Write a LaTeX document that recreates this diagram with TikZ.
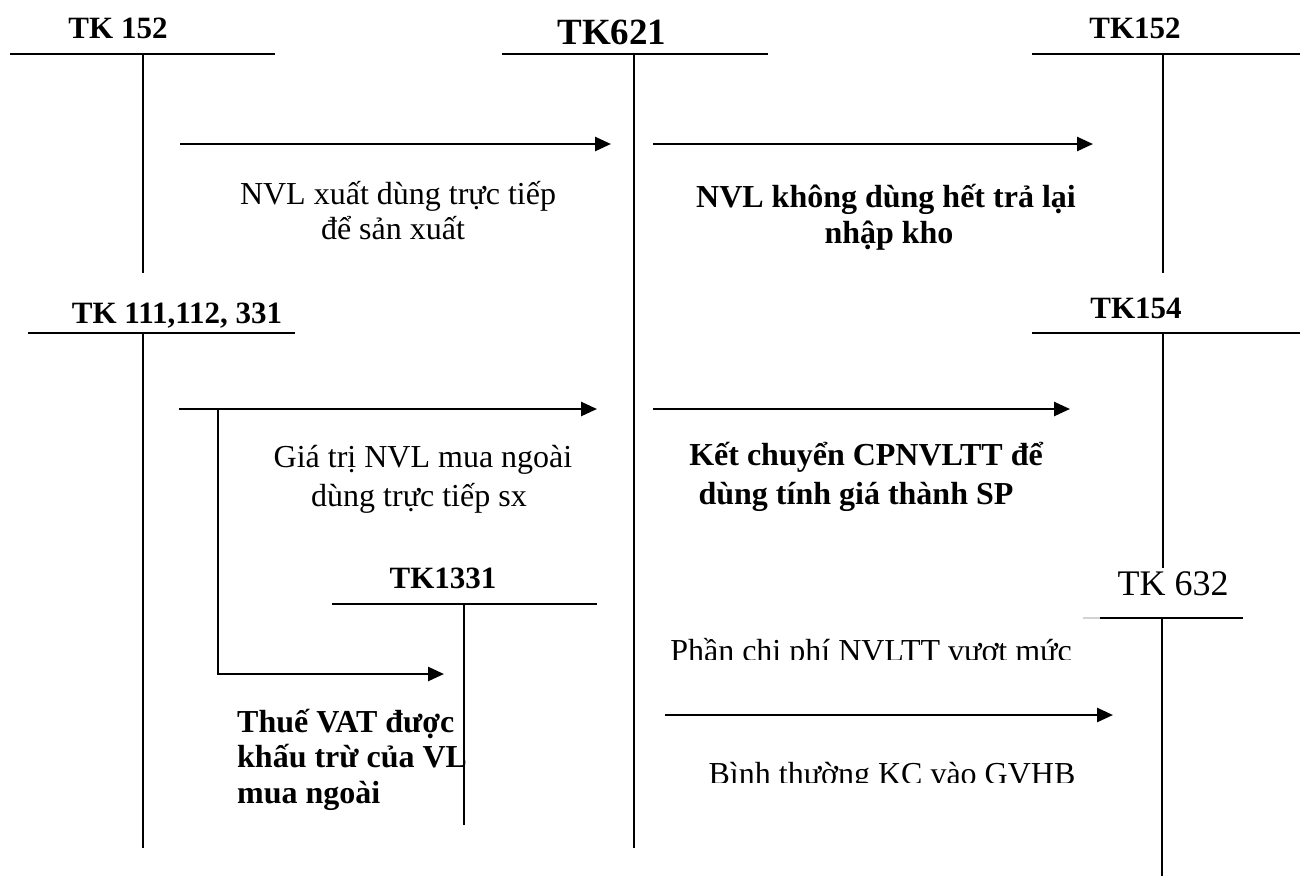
\documentclass[tikz,border=0pt]{standalone}
\usepackage{fontspec}
\setmainfont{Liberation Serif}
\usetikzlibrary{arrows.meta}

\tikzset{
  acct/.style={line width=2pt},
  flow/.style={line width=2.6pt, -{Triangle[length=16pt,width=14pt]}},
  acctlbl/.style={font=\bfseries\fontsize{31}{36}\selectfont, anchor=base, inner sep=0pt},
  note/.style={font=\fontsize{32}{36}\selectfont, anchor=base, inner sep=0pt},
  bnote/.style={font=\bfseries\fontsize{32}{36}\selectfont, anchor=base, inner sep=0pt},
}

\begin{document}
\begin{tikzpicture}[x=1pt, y=-1pt]
\useasboundingbox (0,0) rectangle (1300,876);

% ---------- T-accounts ----------
% TK 152 (left)
\node[acctlbl] (k152a) at (118,38) {TK 152};
\draw[acct] (10,54) -- (275,54);
\draw[acct] (143,54) -- (143,273);

% TK621
\node[acctlbl, font=\bfseries\fontsize{37}{40}\selectfont] (k621) at (612,44) {TK621};
\draw[acct] (502,54) -- (768,54);
\draw[acct] (634,54) -- (634,848);

% TK152 (right)
\node[acctlbl] (k152b) at (1135,38) {TK152};
\draw[acct] (1032,54) -- (1300,54);
\draw[acct] (1163,54) -- (1163,273);

% TK 111,112, 331
\node[acctlbl] (k111) at (177,323) {TK 111,112, 331};
\draw[acct] (28,333) -- (295,333);
\draw[acct] (143,333) -- (143,848);

% TK154
\node[acctlbl] (k154) at (1136,318) {TK154};
\draw[acct] (1032,333) -- (1300,333);
\draw[acct] (1163,333) -- (1163,568);

% TK1331
\node[acctlbl] (k1331) at (443,588) {TK1331};
\draw[acct] (332,604) -- (597,604);
\draw[acct] (464,604) -- (464,825);

% TK 632
\node[note, font=\fontsize{36}{40}\selectfont] (k632) at (1173,595) {TK 632};
\draw[line width=2pt, gray!35] (1083,618) -- (1100,618);
\draw[acct] (1100,618) -- (1243,618);
\draw[acct] (1162,618) -- (1162,876);

% ---------- flows ----------
\coordinate (f1s) at (180,144);  \coordinate (f1e) at (611,144);
\coordinate (f2s) at (653,144);  \coordinate (f2e) at (1093,144);
\coordinate (f3s) at (179,409);  \coordinate (f3e) at (597,409);
\coordinate (f4s) at (653,409);  \coordinate (f4e) at (1070,409);
\coordinate (brs) at (218,409);  \coordinate (bre) at (444,674);
\coordinate (f5s) at (665,715);  \coordinate (f5e) at (1113,715);

\draw[flow] (f1s) -- (f1e);
\draw[flow] (f2s) -- (f2e);
\draw[flow] (f3s) -- (f3e);
\draw[flow] (f4s) -- (f4e);
\draw[flow] (brs) |- (bre);
\draw[flow] (f5s) -- (f5e);

% ---------- flow descriptions ----------
\node[note] (t1a) at (398,204) {NVL xuất dùng trực tiếp};
\node[note] (t1b) at (393,239) {để sản xuất};

\node[bnote] (t2a) at (886,207) {NVL không dùng hết trả lại};
\node[bnote] (t2b) at (889,243) {nhập kho};

\node[note] (t3a) at (423,467) {Giá trị NVL mua ngoài};
\node[note] (t3b) at (419,506) {dùng trực tiếp sx};

\node[bnote] (t4a) at (866,465) {Kết chuyển CPNVLTT để};
\node[bnote] (t4b) at (856,504) {dùng tính giá thành SP};

\node[bnote, anchor=base west] (t5a) at (237,732) {Thuế VAT được};
\node[bnote, anchor=base west] (t5b) at (237,767) {khấu trừ của VL};
\node[bnote, anchor=base west] (t5c) at (237,803) {mua ngoài};

% captions cut off at their baseline
\begin{scope}
  \clip (640,600) rectangle (1100,659);
  \node[note] (t6) at (871,661) {Phần chi phí NVLTT vượt mức};
\end{scope}
\begin{scope}
  \clip (680,740) rectangle (1100,782);
  \node[note] (t7) at (892,784) {Bình thường KC vào GVHB};
\end{scope}

\end{tikzpicture}
\end{document}
